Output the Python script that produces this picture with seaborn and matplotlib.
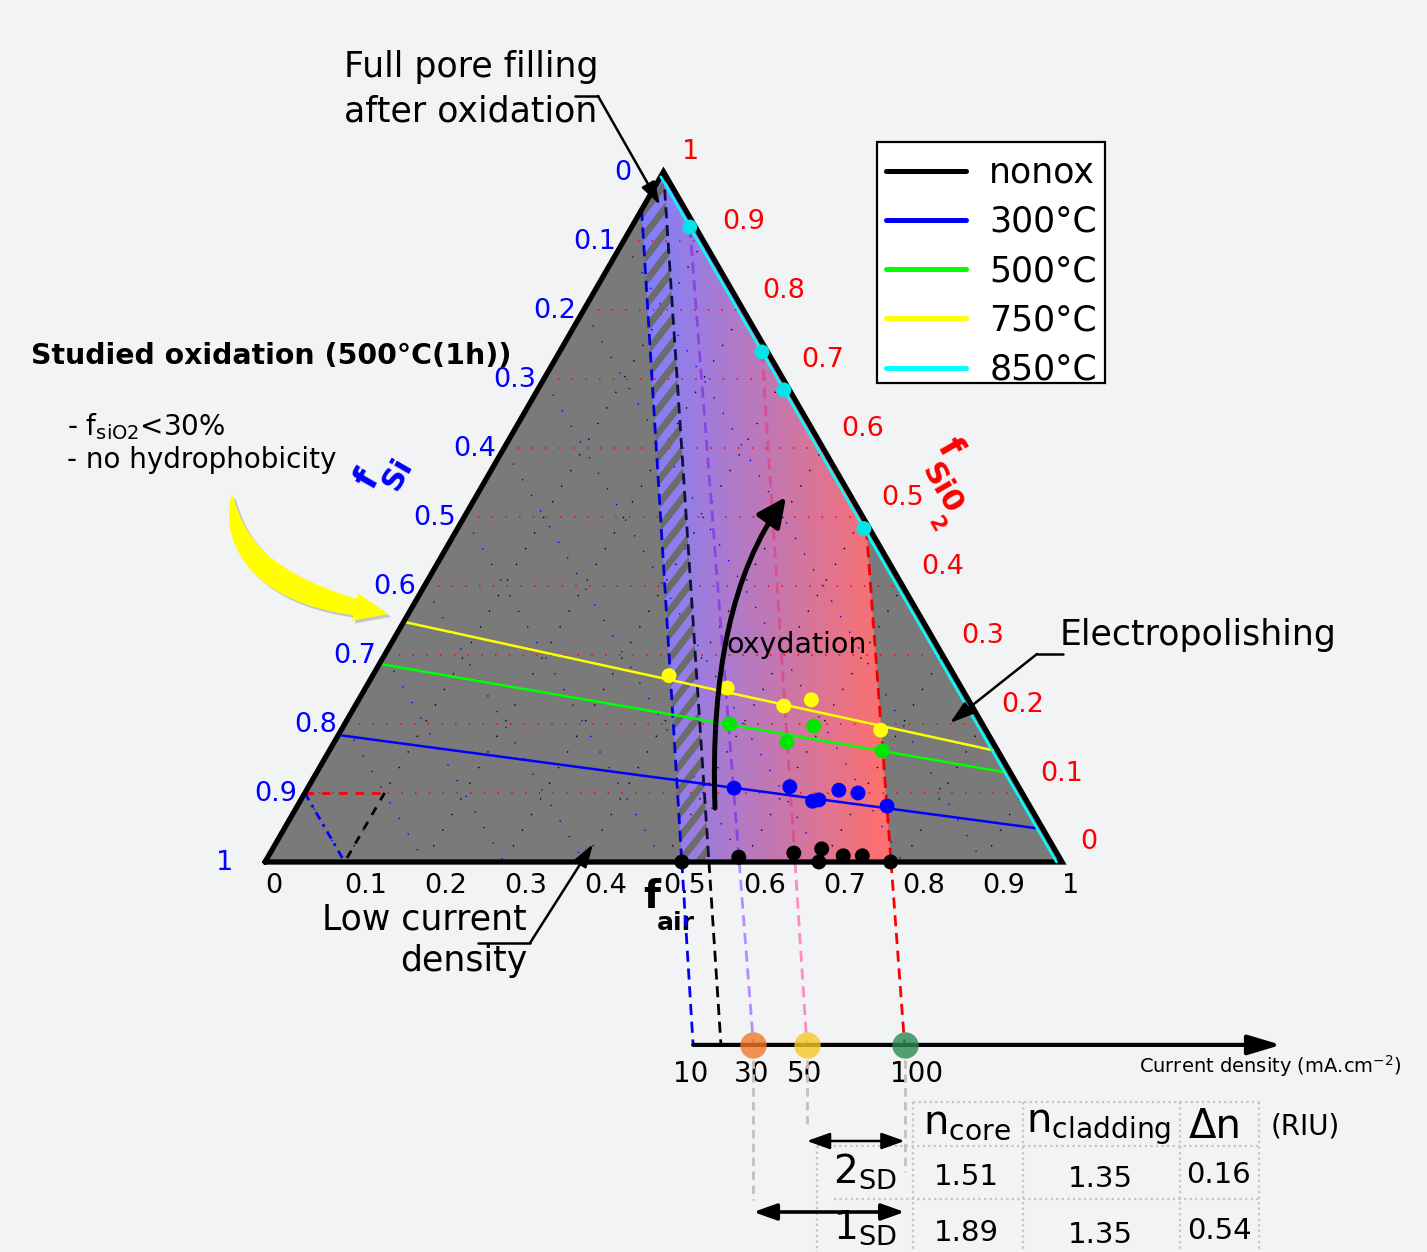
import numpy as np
import pandas as pd
import matplotlib
matplotlib.use("Agg")
import matplotlib.pyplot as plt
import matplotlib.patheffects as pe
import seaborn as sns
from matplotlib.patches import Polygon, FancyArrowPatch, Rectangle
from matplotlib.lines import Line2D

sns.set_theme(style="white")
BG = "#f2f3f5"
plt.rcParams["font.family"] = ["DejaVu Sans"]
plt.rcParams["mathtext.fontset"] = "dejavusans"
plt.rcParams["text.color"] = "black"

# ---------------- data : fractions (f_air, f_SiO2), f_Si = 1 - f_air - f_SiO2 ----------------
series_names = ["nonox", "300°C", "500°C", "750°C", "850°C"]
point_colors = ["#000000", "#0000ff", "#00e600", "#ffff00", "#00e5e5"]
line_colors = ["#000000", "#0000ff", "#00ff00", "#ffff00", "#00ffff"]

nonox_air = [0.523, 0.591, 0.657, 0.695, 0.689, 0.721, 0.745, 0.785]
nonox_sio2 = [0.000, 0.007, 0.013, 0.000, 0.019, 0.009, 0.009, 0.000]
t300_air = [0.535, 0.604, 0.643, 0.650, 0.668, 0.694, 0.740]
t300_sio2 = [0.107, 0.109, 0.088, 0.090, 0.104, 0.100, 0.081]
t500_air = [0.483, 0.568, 0.590, 0.694]
t500_sio2 = [0.200, 0.174, 0.197, 0.161]
t750_air = [0.372, 0.454, 0.538, 0.568, 0.677]
t750_sio2 = [0.270, 0.252, 0.226, 0.235, 0.191]
t850_air = [0.073, 0.254, 0.309, 0.510]
t850_sio2 = [0.920, 0.739, 0.684, 0.483]

# fitted trend lines (ends)
trend_300_air, trend_300_sio2 = [0.0, 0.943], [0.184, 0.049]
trend_500_air, trend_500_sio2 = [0.0, 0.8635], [0.287, 0.130]
trend_750_air, trend_750_sio2 = [0.0, 0.832], [0.348, 0.162]
trend_850_air, trend_850_sio2 = [0.0, 0.993], [0.993, 0.0]

# iso current-density boundaries (top point -> point on f_SiO2 = 0)
bound_top_air = [0.0, 0.0, 0.073, 0.254, 0.513]
bound_top_sio2 = [0.945, 1.0, 0.920, 0.739, 0.483]
bound_bot_air = [0.523, 0.557, 0.595, 0.665, 0.7855]
current_labels = ["10", "", "30", "50", "100"]
current_axis_sio2 = -0.265

ticks = [0.0, 0.1, 0.2, 0.3, 0.4, 0.5, 0.6, 0.7, 0.8, 0.9, 1.0]
tick_labels = ["0", "0.1", "0.2", "0.3", "0.4", "0.5", "0.6", "0.7", "0.8", "0.9", "1"]

table_rows = ["2", "1"]
n_core = [1.51, 1.89]
n_cladding = [1.35, 1.35]
delta_n = [0.16, 0.54]

# ---------------- helpers ----------------
S3 = np.sqrt(3) / 2
def tern(air, sio2):
    air = np.asarray(air, float); sio2 = np.asarray(sio2, float)
    return air + 0.5 * sio2, S3 * sio2

SC, OX, OY = 797.0, 265.0, 862.0
def P(x, y):
    return ((x - OX) / SC, (OY - y) / SC)
def PX(X):
    return OX + SC * X

fig = plt.figure(figsize=(14.27, 12.52), dpi=100, facecolor=BG)
ax = fig.add_axes([0, 0, 1, 1])
ax.set_facecolor(BG)

# triangle background
tx, ty = tern([0, 1, 0], [0, 0, 1])
ax.add_patch(Polygon(np.c_[tx, ty], closed=True, fc="#7a7a7a", ec="none", zorder=1))

# gradient region
gpts = [tern(0, bound_top_sio2[0]), tern(bound_bot_air[0], 0), tern(bound_bot_air[4], 0),
        tern(bound_top_air[4], bound_top_sio2[4]), tern(1 - bound_top_sio2[4], bound_top_sio2[4]), tern(0, 1)]
gpoly = Polygon(np.array(gpts), closed=True, fc="none", ec="none", zorder=2)
ax.add_patch(gpoly)
gx = np.linspace(P(600, 0)[0], P(1000, 0)[0], 400)
x0, x1 = P(645, 0)[0], P(880, 0)[0]
t = np.clip((gx - x0) / (x1 - x0), 0, 1)
c0 = np.array([128, 128, 255]) / 255; c1 = np.array([252, 112, 112]) / 255
img = (c0[None, :] * (1 - t)[:, None] + c1[None, :] * t[:, None])[None, :, :]
im = ax.imshow(img, extent=[gx[0], gx[-1], 0, S3], origin="lower", aspect="auto", zorder=2)
im.set_clip_path(gpoly)

# dotted grid
for v in ticks[1:-1]:
    x, y = tern([0, 1 - v], [v, v]); ax.plot(x, y, color="red", lw=1.1, ls=(0, (1, 8)), zorder=3)
    x, y = tern([0, 1 - v], [1 - v, 0]); ax.plot(x, y, color="blue", lw=1.0, ls=(0, (1, 12)), zorder=3)
    x, y = tern([v, v], [0, 1 - v]); ax.plot(x, y, color="black", lw=1.0, ls=(0, (1, 12)), zorder=3)

# hatched band (full pore filling)
band = Polygon(np.array([tern(0, bound_top_sio2[0]), tern(bound_bot_air[0], 0), tern(bound_bot_air[1], 0), tern(0, 1)]),
               closed=True, fc="none", ec="none", zorder=4)
ax.add_patch(band)
d = np.array([np.cos(np.radians(52)), np.sin(np.radians(52))])
for k in range(-5, 40):
    b = np.array([0.52, k * 24 / SC])
    seg = np.array([b - 0.2 * d, b + 0.2 * d])
    ln, = ax.plot(seg[:, 0], seg[:, 1], color="#6c6c6c", lw=4.8, solid_capstyle="round", zorder=4)
    ln.set_clip_path(band)

# small reading guide near the corner
x, y = tern([0, 0.1], [0.1, 0.1]); ax.plot(x, y, color="red", lw=2, ls=(0, (3, 3)), zorder=5)
x, y = tern([0, 0.1], [0.1, 0.0]); ax.plot(x, y, color="blue", lw=2, ls=(0, (3, 2, 1, 2)), zorder=5)
x, y = tern([0.1, 0.1], [0.1, 0.0]); ax.plot(x, y, color="black", lw=2, ls=(0, (3, 3)), zorder=5)

# boundaries + extension to the current-density axis
in_cols = ["#0000dd", "#101040", "#8a45e0", "#d8508f", "#ee0000"]
out_cols = ["#0000ff", "#000000", "#b58cff", "#ff8cc0", "#ff0000"]
ext_X = []
for i in range(5):
    ta, ts, ba = bound_top_air[i], bound_top_sio2[i], bound_bot_air[i]
    x, y = tern([ta, ba], [ts, 0]); ax.plot(x, y, color=in_cols[i], lw=2.0, ls=(0, (4, 2.4)), zorder=5)
    tt = 1 - current_axis_sio2 / ts
    ea = ta + (ba - ta) * tt
    x, y = tern([ba, ea], [0, current_axis_sio2]); ax.plot(x, y, color=out_cols[i], lw=2.0, ls=(0, (4, 2.4)), zorder=5)
    ext_X.append(float(x[1]))
yaxis = S3 * current_axis_sio2

# trend lines
for xa, xs, c in [(trend_300_air, trend_300_sio2, line_colors[1]), (trend_500_air, trend_500_sio2, line_colors[2]),
                  (trend_750_air, trend_750_sio2, line_colors[3])]:
    x, y = tern(xa, xs); ax.plot(x, y, color=c, lw=1.8, zorder=6)
# triangle edges
ax.plot(np.r_[tx, tx[0]], np.r_[ty, ty[0]], color="black", lw=3.8, solid_joinstyle="miter", zorder=8)
x, y = tern(trend_850_air, trend_850_sio2); ax.plot(x, y, color=line_colors[4], lw=1.8, zorder=8.5)

# points
frames = []
for n, a, s in zip(series_names, [nonox_air, t300_air, t500_air, t750_air, t850_air],
                   [nonox_sio2, t300_sio2, t500_sio2, t750_sio2, t850_sio2]):
    frames.append(pd.DataFrame({"air": a, "sio2": s, "series": n}))
df = pd.concat(frames, ignore_index=True)
df["X"], df["Y"] = tern(df["air"], df["sio2"])
sns.scatterplot(data=df, x="X", y="Y", hue="series", palette=dict(zip(series_names, point_colors)),
                s=115, linewidth=0, legend=False, ax=ax, zorder=9)

# tick labels
for v, lab in zip(ticks, tick_labels):
    X, Y = tern(v, 0)
    ax.text(X, P(0, 893)[1], lab, ha="left", va="baseline", fontsize=19.5, color="black")
    X, Y = tern(0, 1 - v)
    off = 32 if lab in ("0", "1") else 8
    xp, yp = PX(X), OY - SC * Y
    ax.text(*P(xp - off, yp + 1), lab, ha="right", va="center", fontsize=19.5, color="blue")
    X, Y = tern(1 - v, v)
    xp, yp = PX(X), OY - SC * Y
    dx, dy = (27, -20) if lab in ("0", "1") else (40, -19)
    ax.text(*P(xp + dx, yp + dy), lab, ha="center", va="center", fontsize=19.5, color="red")

# axis titles
ax.text(*P(643, 908), "f", fontsize=28, fontweight="bold", ha="left", va="baseline")
ax.text(*P(657, 930), "air", fontsize=18, fontweight="bold", ha="left", va="baseline")
ax.text(*P(367, 479), "f", fontsize=25, fontweight="bold", color="blue", rotation=60, ha="center", va="center")
ax.text(*P(398, 474), "Si", fontsize=22, fontweight="bold", color="blue", rotation=60, ha="center", va="center")
ax.text(*P(949, 448), "f", fontsize=25, fontweight="bold", color="red", rotation=-60, ha="center", va="center")
ax.text(*P(942, 489), "Si0", fontsize=22, fontweight="bold", color="red", rotation=-60, ha="center", va="center")
ax.text(*P(936, 524), "2", fontsize=15, fontweight="bold", color="red", rotation=-60, ha="center", va="center")

# legend (frame drawn separately)
ax.add_patch(Rectangle(P(877, 383), 228 / SC, 241 / SC, fc="white", ec="black", lw=1.6, zorder=19))
handles = [Line2D([], [], color=c, lw=3.6) for c in line_colors]
leg = ax.legend(handles, series_names, loc="upper left", bbox_to_anchor=(877 / 1427, 1 - 147 / 1252),
                bbox_transform=fig.transFigure, fontsize=25, handlelength=2.3, handletextpad=0.68,
                labelspacing=0.44, borderpad=0.25, borderaxespad=0, frameon=False)
leg.set_zorder(20)

# annotations
ax.text(*P(344, 77), "Full pore filling", fontsize=25, ha="left", va="baseline")
ax.text(*P(344, 121), "after oxidation", fontsize=25, ha="left", va="baseline")
ax.plot(*zip(P(575, 96), P(598, 96)), color="black", lw=1.8, zorder=10)
ax.annotate("", xy=P(660, 205), xytext=P(598, 96),
            arrowprops=dict(arrowstyle="-|>,head_length=0.7,head_width=0.22", lw=1.8, color="black",
                            shrinkA=0, shrinkB=0, mutation_scale=20), zorder=10)

ax.text(*P(1060, 645), "Electropolishing", fontsize=25, ha="left", va="baseline")
ax.plot(*zip(P(1037, 654), P(1063, 654)), color="black", lw=1.8, zorder=10)
ax.annotate("", xy=P(950, 723), xytext=P(1037, 654),
            arrowprops=dict(arrowstyle="-|>,head_length=0.7,head_width=0.22", lw=1.8, color="black",
                            shrinkA=0, shrinkB=0, mutation_scale=20), zorder=10)

ax.text(*P(527, 930), "Low current", fontsize=25, ha="right", va="baseline")
ax.text(*P(527, 971), "density", fontsize=25, ha="right", va="baseline")
ax.plot(*zip(P(478, 943), P(530, 943)), color="black", lw=1.8, zorder=10)
ax.annotate("", xy=P(593, 844), xytext=P(530, 943),
            arrowprops=dict(arrowstyle="-|>,head_length=0.7,head_width=0.22", lw=1.8, color="black",
                            shrinkA=0, shrinkB=0, mutation_scale=20), zorder=10)

ax.text(*P(726, 653), "oxydation", fontsize=20.5, ha="left", va="baseline", zorder=10)
ox = FancyArrowPatch(P(715, 808), P(786, 497), connectionstyle="angle3,angleA=92,angleB=54",
                     arrowstyle="-|>,head_length=0.8,head_width=0.38", mutation_scale=22,
                     lw=3.6, color="black", shrinkA=0, shrinkB=0, zorder=10)
ax.add_patch(ox)

ax.text(*P(31, 364), "Studied oxidation (500°C(1h))", fontsize=20.4, fontweight="bold", ha="left", va="baseline")
ax.text(*P(67, 435), r"- f$_{\mathregular{siO2}}$<30%", fontsize=20, ha="left", va="baseline")
ax.text(*P(67, 468), "- no hydrophobicity", fontsize=20, ha="left", va="baseline")

# tapered yellow arrow (comet shaped), built along a quadratic curve in pixel space
A = np.array([232.0, 495.0]); C = np.array([233.0, 581.0]); B = np.array([355.0, 607.0])
tt = np.linspace(0, 1, 80)[:, None]
curve = (1 - tt) ** 2 * A + 2 * (1 - tt) * tt * C + tt ** 2 * B
tang = 2 * (1 - tt) * (C - A) + 2 * tt * (B - C)
tang /= np.linalg.norm(tang, axis=1, keepdims=True)
nrm = np.c_[-tang[:, 1], tang[:, 0]]
wid = 24 * np.sin(np.pi * 0.8 * tt[:, 0]) ** 0.7
left = curve + nrm * wid[:, None] / 2
right = curve - nrm * wid[:, None] / 2
hd = tang[-1]; hn = nrm[-1]
head = [B + hn * 14, B + hd * 34, B - hn * 14]
outline = np.vstack([left, head, right[::-1]])
shadow = [pe.SimplePatchShadow(offset=(2, -2), shadow_rgbFace="#999999", alpha=0.5), pe.Normal()]
ax.add_patch(Polygon(np.array([P(px_, py_) for px_, py_ in outline]), closed=True, fc="#ffff00", ec="none",
                     zorder=10, path_effects=shadow))

# current density axis
ax.annotate("", xy=(P(1281, 0)[0], yaxis), xytext=(ext_X[0], yaxis),
            arrowprops=dict(arrowstyle="-|>,head_length=1.0,head_width=0.3", lw=3, color="black",
                            shrinkA=0, shrinkB=0, mutation_scale=20), zorder=10)
circ_cols = {2: "#f07828", 3: "#f5c828", 4: "#2a8a50"}
for i, c in circ_cols.items():
    ax.plot(ext_X[i], yaxis, "o", ms=19, color=c, alpha=0.8, mec="none", zorder=11)
for i, lab in enumerate(current_labels):
    if lab:
        nud = 12 / SC if lab == "100" else -2 / SC
        ax.text(ext_X[i] + nud, P(0, 1082)[1], lab, ha="center", va="baseline", fontsize=20)
ax.text(*P(1139, 1073), r"Current density (mA.cm$^{\mathregular{-2}}$)", fontsize=14, ha="left", va="baseline")

# connectors to the table
gcol = "#c8beb8"
for i, yend in [(2, 1200), (3, 1128), (4, 1172)]:
    ax.plot([ext_X[i], ext_X[i]], [P(0, 1060)[1], P(0, yend)[1]], color=gcol, lw=2, ls=(0, (3, 2)), zorder=5)
for (i, j), yy, lw in [((3, 4), 1141, 1.8), ((2, 4), 1212, 2.6)]:
    ax.annotate("", xy=(ext_X[j], P(0, yy)[1]), xytext=(ext_X[i], P(0, yy)[1]),
                arrowprops=dict(arrowstyle="<|-|>,head_length=0.7,head_width=0.25", lw=lw, color="black",
                                shrinkA=0, shrinkB=0, mutation_scale=20), zorder=10)

# table
tcol = "#c4c4c4"
def hline(y, xa, xb):
    ax.plot([P(xa, 0)[0], P(xb, 0)[0]], [P(0, y)[1]] * 2, color=tcol, lw=1.6, ls=(0, (1, 1.5)), zorder=5)
def vline(x, ya, yb):
    ax.plot([P(x, 0)[0]] * 2, [P(0, ya)[1], P(0, yb)[1]], color=tcol, lw=1.6, ls=(0, (1, 1.5)), zorder=5)
hline(1102, 913, 1259); hline(1146, 817, 1259); hline(1199, 834, 1259)
for xx in (913, 1023, 1180, 1259):
    vline(xx, 1102, 1252)
vline(817, 1146, 1252)

ax.text(*P(967, 1133), r"n$_{\mathregular{core}}$", fontsize=29, ha="center", va="baseline")
ax.text(*P(1099, 1132), r"n$_{\mathregular{cladding}}$", fontsize=29, ha="center", va="baseline")
ax.text(*P(1215, 1138), "Δn", fontsize=29, ha="center", va="baseline")
ax.text(*P(1305, 1127), "(RIU)", fontsize=20, ha="center", va="center")
for r, (lab, a, b, c) in enumerate(zip(table_rows, n_core, n_cladding, delta_n)):
    yb = 1185 + r * 56
    ax.text(*P(865, yb - 2), lab + r"$_{\mathregular{SD}}$", fontsize=28, ha="center", va="baseline")
    ax.text(*P(966, yb), f"{a:.2f}", fontsize=21, ha="center", va="baseline")
    ax.text(*P(1100, yb + 2), f"{b:.2f}", fontsize=21, ha="center", va="baseline")
    ax.text(*P(1219, yb - 2), f"{c:.2f}", fontsize=21, ha="center", va="baseline")

ax.set_xlim(P(0, 0)[0], P(1427, 0)[0])
ax.set_ylim(P(0, 1252)[1], P(0, 0)[1])
ax.set_aspect("auto")
ax.axis("off")
fig.savefig("out.png", dpi=100, facecolor=BG)
